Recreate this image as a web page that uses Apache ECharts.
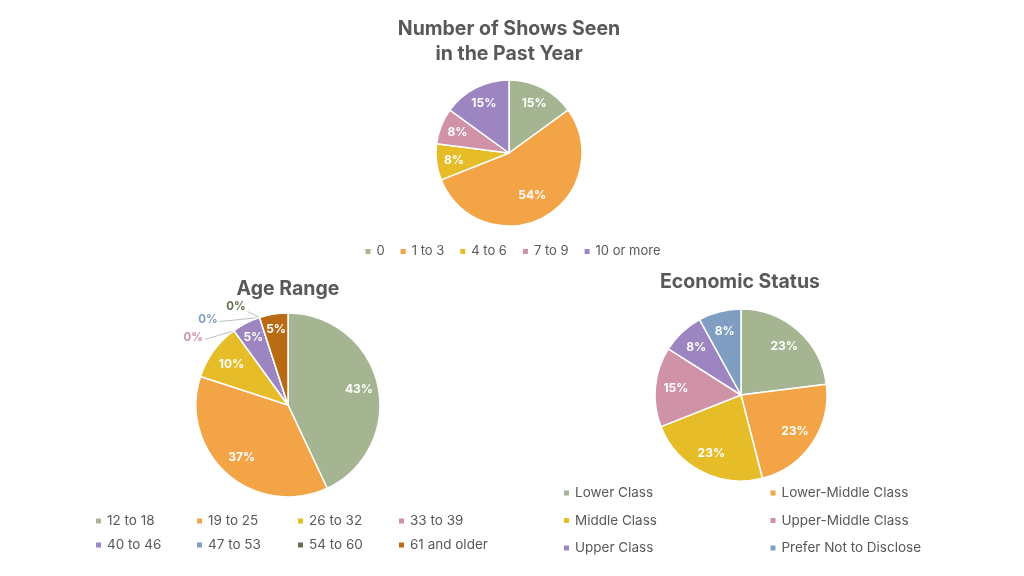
<!DOCTYPE html>
<html><head><meta charset="utf-8">
<script src="https://cdn.jsdelivr.net/npm/echarts@6/dist/echarts.min.js"></script>
<style>html,body{margin:0;padding:0;background:#fff}#c{width:1024px;height:576px}</style>
</head><body><div id="c"></div>
<script>
const showCats = ['0', '1 to 3', '4 to 6', '7 to 9', '10 or more'];
const showVals = [15, 54, 8, 8, 15];
const ageCats = ['12 to 18', '19 to 25', '26 to 32', '33 to 39', '40 to 46', '47 to 53', '54 to 60', '61 and older'];
const ageVals = [43, 37, 10, 0, 5, 0, 0, 5];
const econCats = ['Lower Class', 'Lower-Middle Class', 'Middle Class', 'Upper-Middle Class', 'Upper Class', 'Prefer Not to Disclose'];
const econVals = [23, 23, 23, 15, 8, 8];

const palette = ['#A5B592', '#F3A447', '#E7BC29', '#D092A7', '#9C85C0', '#809EC2', '#637052', '#B96A12'];
const showColors = ['#A5B592', '#F3A447', '#E7BC29', '#D092A7', '#9C85C0'];
const FONT = 'Inter, "Noto Sans", sans-serif';
const TXT = '#595959';

const geo = [
  { c: [509, 153], r: 73, vals: showVals },
  { c: [288, 405], r: 92, vals: ageVals },
  { c: [741, 395], r: 86, vals: econVals }
];
// leader-line offsets (relative to slice edge) for zero-value labels of Age chart
const zeroOffsets = { 3: [[-29, 9], [-31, 7]], 5: [[-40, 4], [-42, 2]], 6: [[-12, -6], [-14, -11]] };

function angleAt(vals, idx, frac) {
  const tot = vals.reduce((a, b) => a + b, 0);
  let cum = 0;
  for (let i = 0; i < idx; i++) cum += vals[i];
  return ((cum + vals[idx] * frac) / tot) * Math.PI * 2;
}

function mk(cats, vals, colors, extra) {
  return cats.map((n, i) => {
    const d = { name: n, value: vals[i], itemStyle: { color: colors[i] } };
    if (extra && extra[i]) Object.assign(d, extra[i]);
    return d;
  });
}
const zeroLbl = (col) => ({
  label: { position: 'outside', color: col, fontWeight: 'bold', fontSize: 11.5 },
  labelLine: { show: true, length: 10, length2: 10, lineStyle: { color: '#bfbfbf', width: 1 } }
});
const ageExtra = { 3: zeroLbl('#D092A7'), 5: zeroLbl('#809EC2'), 6: zeroLbl('#637052') };

function layoutFor(si) {
  return function (p) {
    const g = geo[si];
    const i = p.dataIndex;
    if (si === 1 && zeroOffsets[i]) {
      const a = angleAt(g.vals, i, 0);
      const ex = g.c[0] + g.r * Math.sin(a), ey = g.c[1] - g.r * Math.cos(a);
      const o = zeroOffsets[i];
      return {
        x: ex + o[1][0], y: ey + o[1][1], align: 'right', verticalAlign: 'middle',
        labelLinePoints: [[ex, ey], [ex + o[0][0], ey + o[0][1]], [ex + o[0][0], ey + o[0][1]]]
      };
    }
    const tot = g.vals.reduce((a, b) => a + b, 0);
    const frac = g.vals[i] / tot;
    const a = angleAt(g.vals, i, 0.5);
    const ratio = frac < 0.07 ? 0.83 : (frac > 0.5 ? 0.66 : (frac > 0.4 ? 0.79 : 0.76));
    const k = ratio * g.r;
    return { x: g.c[0] + k * Math.sin(a), y: g.c[1] - k * Math.cos(a), align: 'center', verticalAlign: 'middle' };
  };
}

const baseSeries = {
  type: 'pie', startAngle: 90, clockwise: true,
  avoidLabelOverlap: false,
  itemStyle: { borderColor: '#fff', borderWidth: 1.5 },
  label: { show: true, position: 'inside', formatter: '{c}%', color: '#fff', fontWeight: 'bold', fontSize: 12, fontFamily: FONT },
  labelLine: { show: false },
  emphasis: { disabled: true },
  silent: true
};

const chart = echarts.init(document.getElementById('c'));
chart.setOption({
  backgroundColor: '#fff',
  animation: false,
  textStyle: { fontFamily: FONT },
  title: [
    { text: 'Number of Shows Seen\nin the Past Year', left: 509, top: 16, textAlign: 'center', padding: 0,
      textStyle: { fontSize: 19.5, fontWeight: 'bold', color: TXT, lineHeight: 25.5, fontFamily: FONT } },
    { text: 'Age Range', left: 288, top: 279, textAlign: 'center', padding: 0,
      textStyle: { fontSize: 19.5, fontWeight: 'bold', color: TXT, fontFamily: FONT } },
    { text: 'Economic Status', left: 740, top: 272, textAlign: 'center', padding: 0,
      textStyle: { fontSize: 19.5, fontWeight: 'bold', color: TXT, fontFamily: FONT } }
  ],
  legend: [
    { data: showCats, left: 'center', top: 240, itemWidth: 7, itemHeight: 7, itemGap: 14, icon: 'rect',
      textStyle: { color: TXT, fontSize: 13, fontFamily: FONT } },
    { data: ageCats, left: 89, top: 509, width: 420, itemWidth: 7, itemHeight: 7, itemGap: 10, icon: 'rect',
      textStyle: { color: TXT, fontSize: 13.5, fontFamily: FONT, width: 78, lineHeight: 14 } },
    { data: econCats, left: 557, top: 481, width: 420, itemWidth: 7, itemHeight: 7, itemGap: 13.5, icon: 'rect',
      textStyle: { color: TXT, fontSize: 13.5, fontFamily: FONT, width: 180, lineHeight: 14 } }
  ],
  series: [
    Object.assign({}, baseSeries, { center: geo[0].c, radius: geo[0].r, data: mk(showCats, showVals, showColors), labelLayout: layoutFor(0) }),
    Object.assign({}, baseSeries, { center: geo[1].c, radius: geo[1].r, data: mk(ageCats, ageVals, palette, ageExtra), labelLayout: layoutFor(1) }),
    Object.assign({}, baseSeries, { center: geo[2].c, radius: geo[2].r, data: mk(econCats, econVals, palette), labelLayout: layoutFor(2) })
  ]
});
</script></body></html>
